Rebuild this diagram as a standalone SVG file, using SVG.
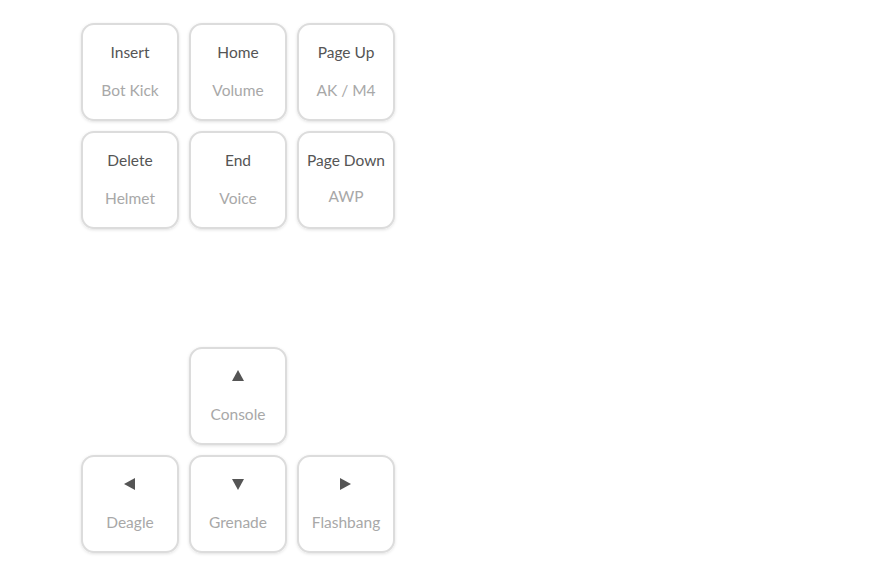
<svg xmlns="http://www.w3.org/2000/svg" width="887" height="576" viewBox="0 0 887 576">
<defs>
<filter id="sh" x="-20%" y="-20%" width="140%" height="140%">
<feDropShadow dx="0" dy="1" stdDeviation="1.5" flood-color="#000" flood-opacity="0.12"/>
</filter>
</defs>
<style>
.key{fill:#fff;stroke:#dcdcdc;stroke-width:2;filter:url(#sh)}
.k{font-family:Lato,"Open Sans",sans-serif;font-size:15.5px;fill:#555;text-anchor:middle}
.s{font-family:Lato,"Open Sans",sans-serif;font-size:15.5px;fill:#a8a8a8;text-anchor:middle}
.a{fill:#555}
</style>
<rect width="887" height="576" fill="#fff"/>
<g id="insert"><rect class="key" x="82" y="24" width="96" height="96" rx="12"/><text class="k" x="130" y="58">Insert</text><text class="s" x="130" y="96">Bot Kick</text></g>
<g id="home"><rect class="key" x="190" y="24" width="96" height="96" rx="12"/><text class="k" x="238" y="58">Home</text><text class="s" x="238" y="96">Volume</text></g>
<g id="pageup"><rect class="key" x="298" y="24" width="96" height="96" rx="12"/><text class="k" x="346" y="58">Page Up</text><text class="s" x="346" y="96">AK / M4</text></g>
<g id="delete"><rect class="key" x="82" y="132" width="96" height="96" rx="12"/><text class="k" x="130" y="166">Delete</text><text class="s" x="130" y="204">Helmet</text></g>
<g id="end"><rect class="key" x="190" y="132" width="96" height="96" rx="12"/><text class="k" x="238" y="166">End</text><text class="s" x="238" y="204">Voice</text></g>
<g id="pagedown"><rect class="key" x="298" y="132" width="96" height="96" rx="12"/><text class="k" x="346" y="166">Page Down</text><text class="s" x="346" y="202">AWP</text></g>
<g id="up"><rect class="key" x="190" y="348" width="96" height="96" rx="12"/><path class="a" d="M238 370 L244 381 L232 381 Z"/><text class="s" x="238" y="420">Console</text></g>
<g id="left"><rect class="key" x="82" y="456" width="96" height="96" rx="12"/><path class="a" d="M124 484 L135 478 L135 490 Z"/><text class="s" x="130" y="528">Deagle</text></g>
<g id="down"><rect class="key" x="190" y="456" width="96" height="96" rx="12"/><path class="a" d="M232 479 L244 479 L238 490 Z"/><text class="s" x="238" y="528">Grenade</text></g>
<g id="right"><rect class="key" x="298" y="456" width="96" height="96" rx="12"/><path class="a" d="M351 484 L340 478 L340 490 Z"/><text class="s" x="346" y="528">Flashbang</text></g>
<g id="connectors"></g>
</svg>
